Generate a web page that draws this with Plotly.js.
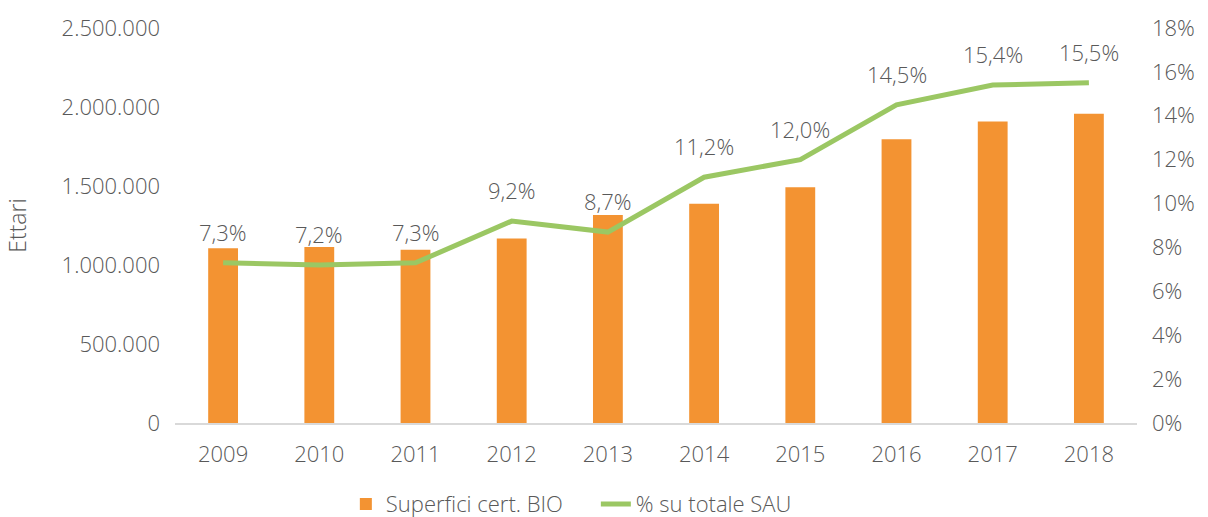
<!DOCTYPE html>
<html>
<head>
<meta charset="utf-8">
<script src="https://cdn.plot.ly/plotly-3.0.1.min.js"></script>
<style>html,body{margin:0;padding:0;background:#fff;}#chart{width:1208px;height:517px;}</style>
</head>
<body>
<div id="chart"></div>
<script>
const years = [2009, 2010, 2011, 2012, 2013, 2014, 2015, 2016, 2017, 2018];
const superfici = [1106684, 1113742, 1096889, 1167362, 1317177, 1387913, 1492579, 1796363, 1908570, 1958045];
const percSAU = [7.3, 7.2, 7.3, 9.2, 8.7, 11.2, 12.0, 14.5, 15.4, 15.5];
const leftTicks = [0, 500000, 1000000, 1500000, 2000000, 2500000];
const leftTickText = ['0', '500.000', '1.000.000', '1.500.000', '2.000.000', '2.500.000'];
const rightTicks = [0, 2, 4, 6, 8, 10, 12, 14, 16, 18];
const rightTickText = rightTicks.map(v => v + '%');

const FONT = 'Open Sans, Lato, DejaVu Sans, sans-serif';
const GREY = '#595959';
const FS = 22;

const bars = {
  type: 'bar', x: years, y: superfici, name: 'Superfici cert. BIO',
  marker: {color: '#F39332'}, yaxis: 'y', xaxis: 'x', width: 0.31, hoverinfo: 'skip'
};
const line = {
  type: 'scatter', mode: 'lines', x: years, y: percSAU, name: '% su totale SAU',
  line: {color: '#9BC763', width: 5}, yaxis: 'y2', xaxis: 'x', hoverinfo: 'skip'
};

const annotations = years.map((yr, i) => ({
  x: yr, y: percSAU[i], xref: 'x', yref: 'y2',
  text: percSAU[i].toFixed(1).replace('.', ',') + '%',
  showarrow: false, yshift: 31,
  font: {family: FONT, size: FS, color: GREY, weight: 300}
}));

const layout = {
  width: 1208, height: 517,
  margin: {l: 175, r: 71, t: 28, b: 94},
  paper_bgcolor: '#fff', plot_bgcolor: '#fff',
  font: {family: FONT, size: FS, color: GREY, weight: 300},
  showlegend: true,
  legend: {orientation: 'h', x: 0.1776, xanchor: 'left', yref: 'container', y: 0.025, yanchor: 'middle',
           entrywidth: 205, entrywidthmode: 'pixels',
           font: {family: FONT, size: FS, color: GREY, weight: 300}, traceorder: 'normal'},
  xaxis: {
    range: [2008.5, 2018.5], tickvals: years, ticktext: years.map(String),
    showgrid: false, zeroline: false, automargin: false,
    showline: true, linecolor: '#D9D9D9', linewidth: 2,
    ticks: '', ticklabelstandoff: 11,
    tickfont: {family: FONT, size: FS, color: GREY, weight: 300}
  },
  yaxis: {
    range: [0, 2500000], tickvals: leftTicks, ticktext: leftTickText,
    showgrid: false, zeroline: false, showline: false, ticks: '', automargin: false,
    ticklabelstandoff: 14,
    tickfont: {family: FONT, size: FS, color: GREY, weight: 300},
    title: {text: 'Ettari', font: {family: FONT, size: 23, color: GREY, weight: 300}, standoff: 28}
  },
  yaxis2: {
    overlaying: 'y', side: 'right', range: [0, 18], tickvals: rightTicks, ticktext: rightTickText,
    showgrid: false, zeroline: false, showline: false, ticks: '', automargin: false,
    ticklabelstandoff: 14,
    tickfont: {family: FONT, size: FS, color: GREY, weight: 300}
  },
  annotations: annotations
};

Plotly.newPlot('chart', [bars, line], layout, {staticPlot: true, displayModeBar: false});
</script>
</body>
</html>
